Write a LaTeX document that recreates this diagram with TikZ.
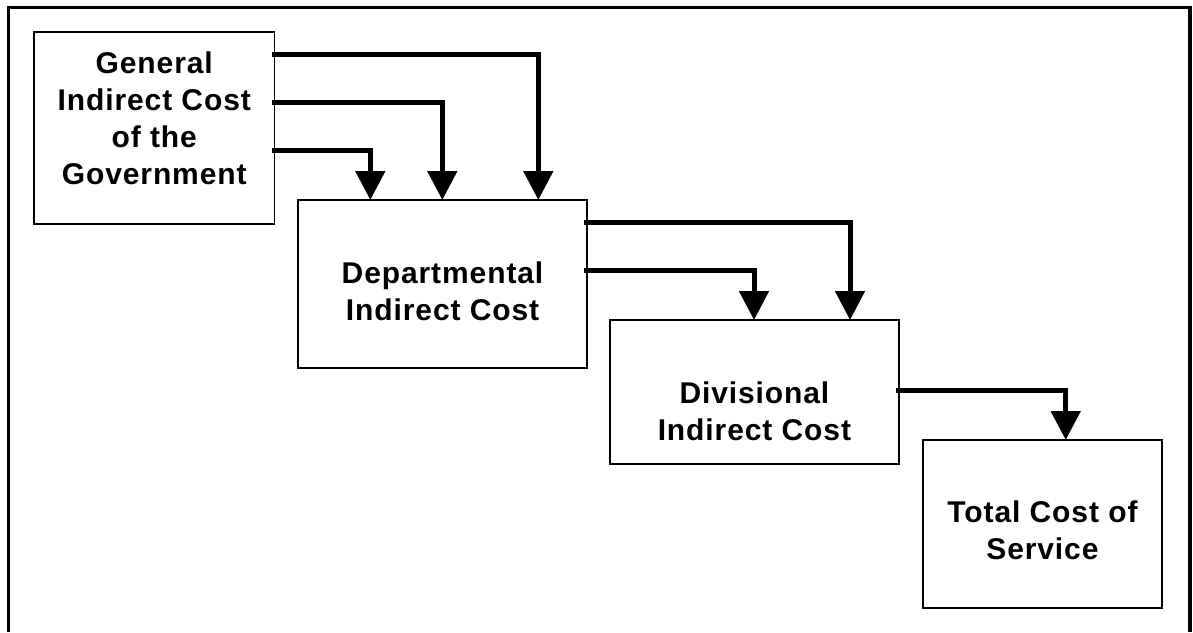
\documentclass[tikz,border=0pt]{standalone}
\usepackage{fontspec}
\setmainfont{Liberation Sans}[LetterSpace=3]
\usetikzlibrary{calc, arrows.meta}

\begin{document}
\begin{tikzpicture}[x=0.5pt, y=-0.5pt,
    box/.style={draw, line width=0.85pt, anchor=north west, outer sep=0pt, inner sep=0pt},
    lbl/.style={align=center, inner sep=0pt, font=\bfseries\fontsize{15}{18.5}\selectfont},
    flow/.style={line width=2.5pt, -{Triangle[length=14.5pt, width=14.5pt]}}]
    \useasboundingbox (0,0) rectangle (1193,632);
    \draw[line width=1.65pt] (8.3,632) -- (8.3,7.3) -- (1190,7.3) -- (1190,632);
    \node[box, minimum width=120.25pt, minimum height=96pt] (gen) at (34,32) {};
    \node[box, minimum width=144.25pt, minimum height=84pt] (dep) at (298.3,200) {};
    \node[box, minimum width=144.4pt, minimum height=72pt] (div) at (610,320) {};
    \node[box, minimum width=119.75pt, minimum height=84pt] (tot) at (922.7,440) {};
    \node[lbl] (gentxt) at ($(gen.north)+(0,86)$) {General\\Indirect Cost\\of the\\Government};
    \node[lbl] (deptxt) at ($(dep.north)+(0,91)$) {Departmental\\Indirect Cost};
    \node[lbl] (divtxt) at ($(div.north)+(0,91)$) {Divisional\\Indirect Cost};
    \node[lbl] (tottxt) at ($(tot.north)+(0,90.5)$) {Total Cost of\\Service};
    \foreach \dy/\dx in {22/240, 70/144, 118/72}
        \draw[flow] ($(gen.north east)+(-3,\dy)$) -| ($(dep.north west)+(\dx,0)$);
    \foreach \dy/\dx in {22/240, 70/144}
        \draw[flow] ($(dep.north east)+(-3,\dy)$) -| ($(div.north west)+(\dx,0)$);
    \draw[flow] ($(div.north east)+(-3,70)$) -| ($(tot.north west)+(143,0)$);
\end{tikzpicture}
\end{document}
